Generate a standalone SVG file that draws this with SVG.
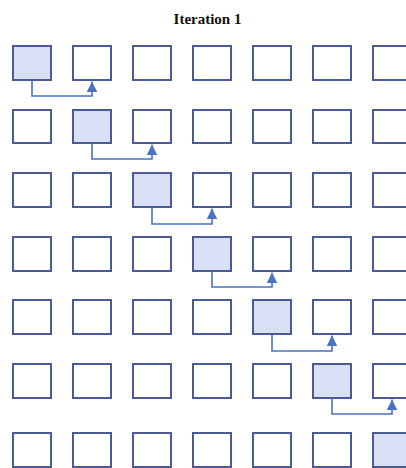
<svg xmlns="http://www.w3.org/2000/svg" width="406" height="468" viewBox="0 0 406 468">
<style>
.b{fill:#ffffff;stroke:#4a5a95;stroke-width:2}
.f{fill:#d9dff5;stroke:#4a5a95;stroke-width:2}
.c{fill:none;stroke:#4a72c0;stroke-width:1.6}
.t{font-family:"Liberation Serif",serif;font-weight:bold;font-size:15px;fill:#111}
</style>
<defs>
<marker id="a" viewBox="0 0 10 10" refX="10" refY="5" markerWidth="6.5" markerHeight="6.5" orient="auto" markerUnits="strokeWidth">
<path d="M0,0 L10,5 L0,10 z" fill="#4a72c0"/>
</marker>
</defs>
<rect width="406" height="468" fill="#ffffff"/>
<text class="t" x="207.5" y="24" text-anchor="middle">Iteration 1</text>
<g id="row1">
<g id="n1_1"><rect class="f" x="13" y="46" width="38" height="34"/></g>
<g id="n1_2"><rect class="b" x="73" y="46" width="38" height="34"/></g>
<g id="n1_3"><rect class="b" x="133" y="46" width="38" height="34"/></g>
<g id="n1_4"><rect class="b" x="193" y="46" width="38" height="34"/></g>
<g id="n1_5"><rect class="b" x="253" y="46" width="38" height="34"/></g>
<g id="n1_6"><rect class="b" x="313" y="46" width="38" height="34"/></g>
<g id="n1_7"><rect class="b" x="373" y="46" width="38" height="34"/></g>
</g>
<g id="row2">
<g id="n2_1"><rect class="b" x="13" y="110" width="38" height="33"/></g>
<g id="n2_2"><rect class="f" x="73" y="110" width="38" height="33"/></g>
<g id="n2_3"><rect class="b" x="133" y="110" width="38" height="33"/></g>
<g id="n2_4"><rect class="b" x="193" y="110" width="38" height="33"/></g>
<g id="n2_5"><rect class="b" x="253" y="110" width="38" height="33"/></g>
<g id="n2_6"><rect class="b" x="313" y="110" width="38" height="33"/></g>
<g id="n2_7"><rect class="b" x="373" y="110" width="38" height="33"/></g>
</g>
<g id="row3">
<g id="n3_1"><rect class="b" x="13" y="173" width="38" height="34"/></g>
<g id="n3_2"><rect class="b" x="73" y="173" width="38" height="34"/></g>
<g id="n3_3"><rect class="f" x="133" y="173" width="38" height="34"/></g>
<g id="n3_4"><rect class="b" x="193" y="173" width="38" height="34"/></g>
<g id="n3_5"><rect class="b" x="253" y="173" width="38" height="34"/></g>
<g id="n3_6"><rect class="b" x="313" y="173" width="38" height="34"/></g>
<g id="n3_7"><rect class="b" x="373" y="173" width="38" height="34"/></g>
</g>
<g id="row4">
<g id="n4_1"><rect class="b" x="13" y="237" width="38" height="34"/></g>
<g id="n4_2"><rect class="b" x="73" y="237" width="38" height="34"/></g>
<g id="n4_3"><rect class="b" x="133" y="237" width="38" height="34"/></g>
<g id="n4_4"><rect class="f" x="193" y="237" width="38" height="34"/></g>
<g id="n4_5"><rect class="b" x="253" y="237" width="38" height="34"/></g>
<g id="n4_6"><rect class="b" x="313" y="237" width="38" height="34"/></g>
<g id="n4_7"><rect class="b" x="373" y="237" width="38" height="34"/></g>
</g>
<g id="row5">
<g id="n5_1"><rect class="b" x="13" y="300" width="38" height="34"/></g>
<g id="n5_2"><rect class="b" x="73" y="300" width="38" height="34"/></g>
<g id="n5_3"><rect class="b" x="133" y="300" width="38" height="34"/></g>
<g id="n5_4"><rect class="b" x="193" y="300" width="38" height="34"/></g>
<g id="n5_5"><rect class="f" x="253" y="300" width="38" height="34"/></g>
<g id="n5_6"><rect class="b" x="313" y="300" width="38" height="34"/></g>
<g id="n5_7"><rect class="b" x="373" y="300" width="38" height="34"/></g>
</g>
<g id="row6">
<g id="n6_1"><rect class="b" x="13" y="364" width="38" height="34"/></g>
<g id="n6_2"><rect class="b" x="73" y="364" width="38" height="34"/></g>
<g id="n6_3"><rect class="b" x="133" y="364" width="38" height="34"/></g>
<g id="n6_4"><rect class="b" x="193" y="364" width="38" height="34"/></g>
<g id="n6_5"><rect class="b" x="253" y="364" width="38" height="34"/></g>
<g id="n6_6"><rect class="f" x="313" y="364" width="38" height="34"/></g>
<g id="n6_7"><rect class="b" x="373" y="364" width="38" height="34"/></g>
</g>
<g id="row7">
<g id="n7_1"><rect class="b" x="13" y="433" width="38" height="34"/></g>
<g id="n7_2"><rect class="b" x="73" y="433" width="38" height="34"/></g>
<g id="n7_3"><rect class="b" x="133" y="433" width="38" height="34"/></g>
<g id="n7_4"><rect class="b" x="193" y="433" width="38" height="34"/></g>
<g id="n7_5"><rect class="b" x="253" y="433" width="38" height="34"/></g>
<g id="n7_6"><rect class="b" x="313" y="433" width="38" height="34"/></g>
<g id="n7_7"><rect class="f" x="373" y="433" width="38" height="34"/></g>
</g>
<g id="connectors">
<path class="c" marker-end="url(#a)" d="M32,81 V96 H92 V81.5"/>
<path class="c" marker-end="url(#a)" d="M92,144 V159 H152 V144.5"/>
<path class="c" marker-end="url(#a)" d="M152,208 V224 H212 V208.5"/>
<path class="c" marker-end="url(#a)" d="M212,272 V287 H272 V272.5"/>
<path class="c" marker-end="url(#a)" d="M272,335 V351 H332 V335.5"/>
<path class="c" marker-end="url(#a)" d="M332,399 V414 H392 V399.5"/>
</g>
</svg>
